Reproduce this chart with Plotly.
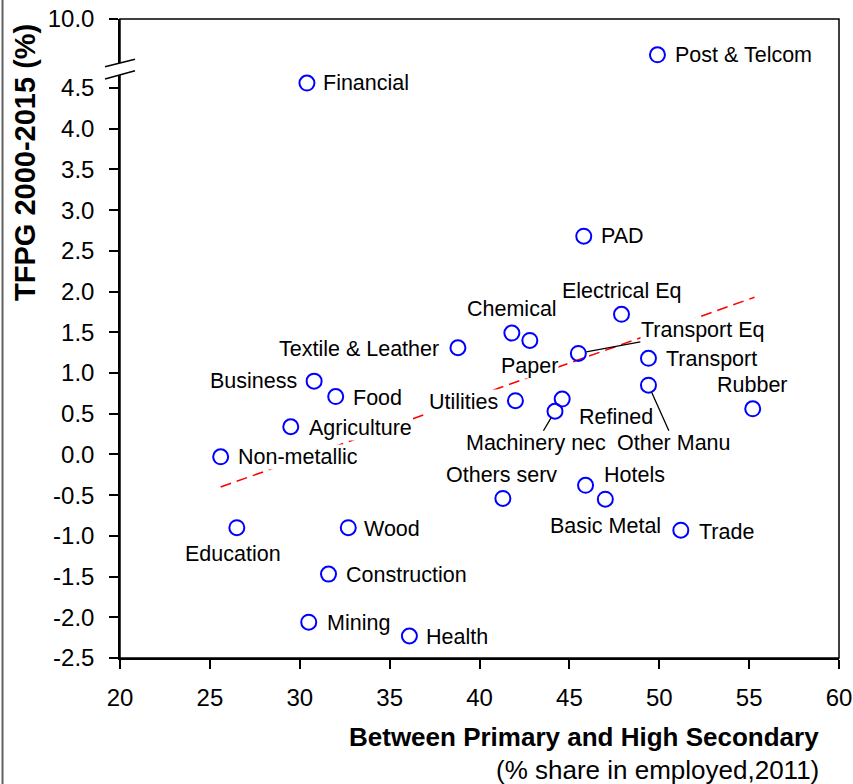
import plotly.graph_objects as go

# Sector data: share of workers with primary-to-high-secondary education (2011)
# against total factor productivity growth 2000-2015
sectors = [
    "Financial", "Post & Telcom", "PAD", "Electrical Eq", "Chemical", "Paper",
    "Transport Eq", "Transport", "Other Manu", "Rubber", "Textile & Leather",
    "Business", "Food", "Utilities", "Refined", "Machinery nec", "Agriculture",
    "Non-metallic", "Others serv", "Hotels", "Basic Metal", "Trade",
    "Education", "Wood", "Construction", "Mining", "Health",
]
share = [
    30.4, 49.9, 45.8, 47.9, 41.8, 42.8,
    45.5, 49.4, 49.4, 55.2, 38.8,
    30.8, 32.0, 42.0, 44.6, 44.2, 29.5,
    25.6, 41.3, 45.9, 47.0, 51.2,
    26.5, 32.7, 31.6, 30.5, 36.1,
]
tfpg = [
    4.56, 9.56, 2.68, 1.72, 1.49, 1.40,
    1.24, 1.18, 0.85, 0.56, 1.31,
    0.90, 0.71, 0.66, 0.68, 0.53, 0.34,
    -0.03, -0.54, -0.38, -0.55, -0.93,
    -0.90, -0.90, -1.47, -2.06, -2.23,
]

# Linear trend drawn across the sample
trend_x = [25.6, 55.3]
trend_y = [-0.40, 1.93]

# Tick marks of the lower and upper panels
x_ticks = [20, 25, 30, 35, 40, 45, 50, 55, 60]
y_ticks = [-2.5, -2.0, -1.5, -1.0, -0.5, 0.0, 0.5, 1.0, 1.5, 2.0, 2.5, 3.0, 3.5, 4.0, 4.5]
y_ticks_top = [10.0]

# Values above the axis break go to the upper (compressed) panel
BREAK = 5.0
LOW_RANGE = [-2.5, 4.733]
HIGH_RANGE = [9.386, 10.0]

FONT = "Arial, Liberation Sans, sans-serif"
BLUE = "#0000ff"

# Pixel geometry of the plotting area
W, H = 853, 784
X0, X1 = 120, 839
YB, YT = 658, 19


def px(x):
    return (x - X0) / (X1 - X0)


def py(y):
    return (YB - y) / (YB - YT)


def fmt(v):
    # plain hyphen-minus, one decimal
    return f"{v:.1f}".replace("\u2212", "-")


SPLIT = py(69)

lo_x = [x for x, y in zip(share, tfpg) if y < BREAK]
lo_y = [y for y in tfpg if y < BREAK]
hi_x = [x for x, y in zip(share, tfpg) if y >= BREAK]
hi_y = [y for y in tfpg if y >= BREAK]

fig = go.Figure()

fig.add_trace(go.Scatter(
    x=trend_x, y=trend_y, mode="lines", yaxis="y",
    line=dict(color="#ff0000", width=1.5, dash="11px,6px"),
    hoverinfo="skip",
))

marker = dict(symbol="circle-open", size=15, color=BLUE, line=dict(width=2, color=BLUE))
fig.add_trace(go.Scatter(x=lo_x, y=lo_y, mode="markers", yaxis="y", marker=marker))
fig.add_trace(go.Scatter(x=hi_x, y=hi_y, mode="markers", yaxis="y2", marker=marker))

# Label placement: (xanchor, xshift, yshift)
label_pos = {
    "Financial": ("left", 15, 0),
    "Post & Telcom": ("left", 17, 0),
    "PAD": ("left", 16, 0),
    "Electrical Eq": ("center", 0, 23),
    "Chemical": ("center", 0, 24),
    "Paper": ("center", 0, -26),
    "Transport": ("left", 17, -1),
    "Rubber": ("center", 0, 24),
    "Textile & Leather": ("right", -18, -1),
    "Business": ("right", -16, 0),
    "Food": ("left", 16, -1),
    "Utilities": ("right", -16, -1),
    "Refined": ("left", 16, -18),
    "Agriculture": ("left", 17, -1),
    "Non-metallic": ("left", 16, 0),
    "Others serv": ("center", -1, 23),
    "Hotels": ("left", 17, 10),
    "Basic Metal": ("center", 0, -27),
    "Trade": ("left", 17, -2),
    "Education": ("center", -4, -26),
    "Wood": ("left", 15, -1),
    "Construction": ("left", 16, -1),
    "Mining": ("left", 17, -1),
    "Health": ("left", 16, -1),
}
# Labels joined to their marker by a leader line: (ax, ay) in pixels
leader_pos = {
    "Transport Eq": (124, -23),
    "Other Manu": (26, 58),
    "Machinery nec": (-19, 32),
}

label_font = dict(family=FONT, size=21.5, color="black")
annotations = []
for name, x, y in zip(sectors, share, tfpg):
    yref = "y2" if y >= BREAK else "y"
    if name in leader_pos:
        ax, ay = leader_pos[name]
        annotations.append(dict(
            x=x, y=y, xref="x", yref=yref, text=name, font=label_font,
            showarrow=True, arrowhead=0, arrowwidth=1.3, arrowcolor="black",
            ax=ax, ay=ay, standoff=8, bgcolor="white", borderpad=0,
        ))
    else:
        xa, xs, ys = label_pos[name]
        annotations.append(dict(
            x=x, y=y, xref="x", yref=yref, text=name, font=label_font,
            showarrow=False, xanchor=xa, yanchor="middle",
            xshift=xs, yshift=ys, bgcolor="white", borderpad=0,
        ))

# Axis titles
annotations += [
    dict(text="<b>TFPG 2000-2015 (%)</b>", xref="paper", yref="paper",
         x=px(25), y=py(163), textangle=-90, showarrow=False,
         xanchor="center", yanchor="middle",
         font=dict(family=FONT, size=29, color="black")),
    dict(text="<b>Between Primary and High Secondary</b>", xref="paper", yref="paper",
         x=px(821), y=py(737), showarrow=False, xanchor="right", yanchor="middle",
         font=dict(family=FONT, size=26, color="black")),
    dict(text="(% share in employed,2011)", xref="paper", yref="paper",
         x=px(821), y=py(770), showarrow=False, xanchor="right", yanchor="middle",
         font=dict(family=FONT, size=26, color="black")),
]

tick_font = dict(family=FONT, size=24, color="black")
axis_common = dict(
    showgrid=False, zeroline=False, showline=True, linecolor="black", linewidth=1.5,
    ticks="outside", ticklen=9, tickwidth=1.5, tickcolor="black", tickfont=tick_font,
    automargin=False,
)

shapes = [
    # plot frame
    dict(type="rect", xref="paper", yref="paper", x0=0, x1=1, y0=0, y1=1,
         line=dict(color="black", width=1.5), layer="above"),
    # axis break: white gap with two slanted strokes
    dict(type="path", xref="paper", yref="paper",
         path=f"M {px(105)} {py(66.7)} L {px(135)} {py(59.3)} "
              f"L {px(135)} {py(70.7)} L {px(105)} {py(79)} Z",
         fillcolor="white", line=dict(width=0), layer="above"),
    dict(type="line", xref="paper", yref="paper",
         x0=px(105), y0=py(66.7), x1=px(135), y1=py(59.3),
         line=dict(color="black", width=1.5), layer="above"),
    dict(type="line", xref="paper", yref="paper",
         x0=px(105), y0=py(79), x1=px(135), y1=py(70.7),
         line=dict(color="black", width=1.5), layer="above"),
    # outer chart-area edge on the left
    dict(type="line", xref="paper", yref="paper",
         x0=px(2.5), x1=px(2.5), y0=py(0), y1=py(784),
         line=dict(color="#606060", width=2), layer="above"),
]

fig.update_layout(
    width=W, height=H, autosize=False,
    margin=dict(l=X0, r=W - X1, t=YT, b=H - YB, pad=0),
    paper_bgcolor="white", plot_bgcolor="white",
    showlegend=False,
    xaxis=dict(range=[20, 60], tickvals=x_ticks, ticktext=[str(v) for v in x_ticks],
               anchor="y", ticklabelstandoff=8, **axis_common),
    yaxis=dict(range=LOW_RANGE, domain=[0, SPLIT], tickvals=y_ticks,
               ticktext=[fmt(v) for v in y_ticks], anchor="x",
               ticklabelstandoff=10, **axis_common),
    yaxis2=dict(range=HIGH_RANGE, domain=[SPLIT, 1], tickvals=y_ticks_top,
                ticktext=[fmt(v) for v in y_ticks_top], anchor="x",
                ticklabelstandoff=10, **axis_common),
    annotations=annotations,
    shapes=shapes,
)

fig.write_html("out.html")
